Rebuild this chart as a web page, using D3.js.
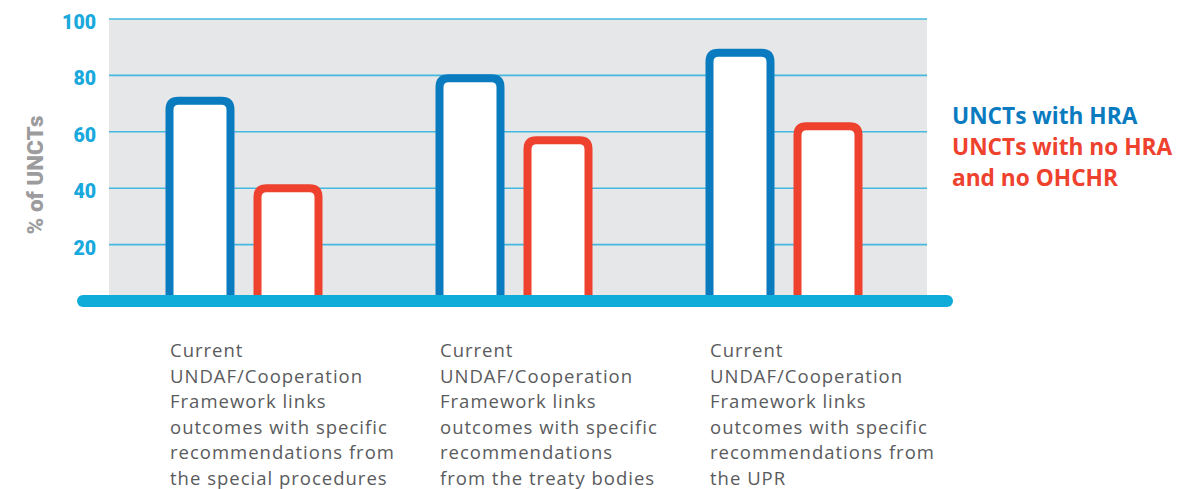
<!DOCTYPE html>
<html>
<head>
<meta charset="utf-8">
<script src="https://cdn.jsdelivr.net/npm/d3@7"></script>
<style>
    html, body { margin: 0; padding: 0; background: #fff; }
    svg { display: block; }
</style>
</head>
<body>
<div id="chart"></div>
<script>
// ── data ──
const categories = ['special', 'treaty', 'upr'];
const categoryLabels = [
    ['Current', 'UNDAF/Cooperation', 'Framework links', 'outcomes with specific', 'recommendations from', 'the special procedures'],
    ['Current', 'UNDAF/Cooperation', 'Framework links', 'outcomes with specific', 'recommendations', 'from the treaty bodies'],
    ['Current', 'UNDAF/Cooperation', 'Framework links', 'outcomes with specific', 'recommendations from', 'the UPR'],
];
const seriesNames = ['UNCTs with HRA', 'UNCTs with no HRA and no OHCHR'];
const withHra = [71, 79, 88];
const noHra = [40, 57, 62];
const yTicks = [20, 40, 60, 80, 100];
const legendLines = [
    { text: 'UNCTs with HRA', series: 0 },
    { text: 'UNCTs with no HRA', series: 1 },
    { text: 'and no OHCHR', series: 1 },
];

const COLORS = ['#0a7bbf', '#ee412e'];
const width = 1179, height = 489;

const svg = d3.select('#chart').append('svg')
    .attr('width', width)
    .attr('height', height);

const plot = { left: 109, right: 927, top: 19, bottom: 301 };

const y = d3.scaleLinear().domain([0, 100]).range([plot.bottom, plot.top]);
const x0 = d3.scaleBand().domain(categories).range([plot.left, plot.left + 810]);
const x1 = d3.scaleBand().domain([0, 1]).range([0, x0.bandwidth()])
    .paddingInner(0.307).paddingOuter(0.6875);

// plot background
svg.append('rect')
    .attr('x', plot.left).attr('y', y(100))
    .attr('width', plot.right - plot.left)
    .attr('height', y(0) - y(100))
    .attr('fill', '#e6e7e8');

// grid lines
svg.append('g').selectAll('line')
    .data(yTicks)
    .join('line')
    .attr('x1', plot.left).attr('x2', plot.right)
    .attr('y1', d => y(d)).attr('y2', d => y(d))
    .attr('stroke', '#45b8e0')
    .attr('stroke-width', 1.6);

// tick labels
svg.append('g').selectAll('text')
    .data(yTicks)
    .join('text')
    .attr('x', 96)
    .attr('y', d => y(d) + 3)
    .attr('dy', '0.36em')
    .attr('text-anchor', 'end')
    .attr('font-family', 'Roboto, sans-serif')
    .attr('font-weight', 900)
    .attr('font-size', 19.5)
    .attr('fill', '#1aa9dc')
    .text(d => d);

// y axis title
svg.append('text')
    .attr('transform', 'translate(43,175) rotate(-90)')
    .attr('text-anchor', 'middle')
    .attr('font-family', 'Roboto, sans-serif')
    .attr('font-weight', 900)
    .attr('font-size', 22.5)
    .attr('fill', '#9c9c9e')
    .text('% of UNCTs');

// bars: rounded-top outlines
const r = 9;
function barPath(xl, w, yt, yb) {
    return `M${xl},${yb} V${yt + r} Q${xl},${yt} ${xl + r},${yt} H${xl + w - r} Q${xl + w},${yt} ${xl + w},${yt + r} V${yb}`;
}

const barData = [];
categories.forEach((c, i) => {
    barData.push({ cat: c, s: 0, v: withHra[i] });
    barData.push({ cat: c, s: 1, v: noHra[i] });
});

svg.append('g').selectAll('path')
    .data(barData)
    .join('path')
    .attr('d', d => barPath(x0(d.cat) + x1(d.s), x1.bandwidth(), y(d.v), y(0)))
    .attr('fill', '#fff')
    .attr('stroke', d => COLORS[d.s])
    .attr('stroke-width', 8);

// baseline
svg.append('line')
    .attr('x1', 83).attr('x2', 947)
    .attr('y1', y(0)).attr('y2', y(0))
    .attr('stroke', '#0fabd9')
    .attr('stroke-width', 12)
    .attr('stroke-linecap', 'round');

// category labels
const catG = svg.append('g').selectAll('text')
    .data(categories)
    .join('text')
    .attr('x', d => x0(d) + 61)
    .attr('y', 357)
    .attr('font-family', '"Open Sans", sans-serif')
    .attr('font-size', 18.5)
    .attr('letter-spacing', 1.0)
    .attr('fill', '#5a5b5d');

catG.selectAll('tspan')
    .data((d, i) => categoryLabels[i])
    .join('tspan')
    .attr('x', function () { return this.parentNode.getAttribute('x'); })
    .attr('dy', (d, i) => i === 0 ? 0 : 25.6)
    .text(d => d);

// legend
svg.append('g').selectAll('text')
    .data(legendLines)
    .join('text')
    .attr('x', 952)
    .attr('y', (d, i) => 124 + i * 31)
    .attr('font-family', '"Open Sans", sans-serif')
    .attr('font-weight', 700)
    .attr('font-size', 22.7)
    .attr('fill', d => COLORS[d.series])
    .text(d => d.text);
</script>
</body>
</html>
